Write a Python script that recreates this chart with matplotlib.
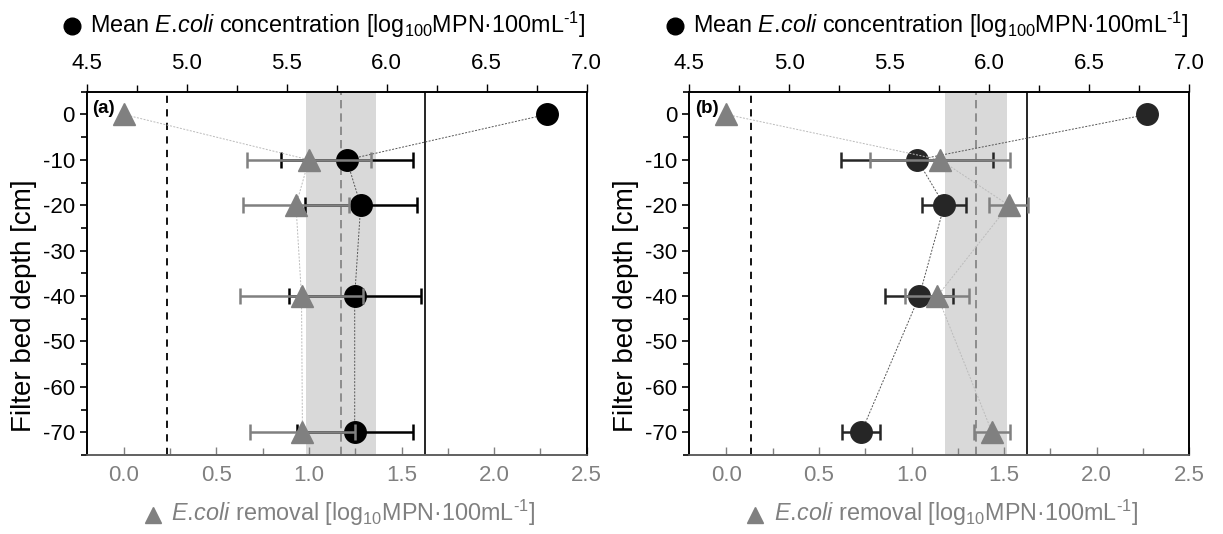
import matplotlib
matplotlib.use("Agg")
import matplotlib.pyplot as plt
from matplotlib.lines import Line2D
from matplotlib.ticker import MultipleLocator, FormatStrFormatter

plt.rcParams['font.family'] = ['Liberation Sans', 'DejaVu Sans']
plt.rcParams['mathtext.fontset'] = 'custom'
plt.rcParams['mathtext.rm'] = 'Liberation Sans'
plt.rcParams['mathtext.it'] = 'Liberation Sans:italic'
plt.rcParams['mathtext.bf'] = 'Liberation Sans:bold'
plt.rcParams['axes.unicode_minus'] = False

# ---- data ----
depth = [0, -10, -20, -40, -70]

conc_a = [6.80, 5.80, 5.87, 5.84, 5.84]
conc_a_err = [0.0, 0.33, 0.28, 0.33, 0.29]
rem_a = [0.0, 1.00, 0.93, 0.96, 0.965]
rem_a_err = [0.0, 0.335, 0.285, 0.33, 0.285]

conc_b = [6.79, 5.64, 5.775, 5.65, 5.36]
conc_b_err = [0.0, 0.38, 0.11, 0.17, 0.095]
rem_b = [0.0, 1.155, 1.525, 1.14, 1.435]
rem_b_err = [0.0, 0.378, 0.105, 0.173, 0.095]

# reference lines (removal units)
limit_dash = [0.234, 0.133]
band_lo = [0.985, 1.181]
band_hi = [1.363, 1.517]
mean_line = [1.172, 1.347]
limit_solid = [1.627, 1.625]

panel_labels = ['(a)', '(b)']
conc_ticks = [4.5, 5.0, 5.5, 6.0, 6.5, 7.0]
rem_ticks = [0.0, 0.5, 1.0, 1.5, 2.0, 2.5]
depth_ticks = [0, -10, -20, -30, -40, -50, -60, -70]

top_label = r'Mean $\it{E.\!coli}$ concentration [log$_{100}$MPN·100mL$^{\text{-}1}$]'
bottom_label = r'$\it{E.\!coli}$ removal [log$_{10}$MPN·100mL$^{\text{-}1}$]'
y_label = 'Filter bed depth [cm]'

GRAY = '#808080'
TICK_FS = 16
LAB_FS = 16.8
YLAB_FS = 20

W, H = 1223, 534
fig = plt.figure(figsize=(W / 100, H / 100), dpi=100)

panels = [
    (conc_a, conc_a_err, rem_a, rem_a_err, '#000000'),
    (conc_b, conc_b_err, rem_b, rem_b_err, '#262626'),
]
lefts = [86.7 / W, 689.3 / W]
bottom = 1 - 455 / H
width = 500 / W
height = (455 - 91.7) / H

label_texts = []
for i, (conc, cerr, rem, rerr, ccol) in enumerate(panels):
    pos = [lefts[i], bottom, width, height]
    ax = fig.add_axes(pos)             # removal axis (bottom) + background lines
    axc = ax.twiny()                    # concentration axis (top)
    axr = fig.add_axes(pos, sharex=ax, sharey=ax)  # removal markers on top layer
    axr.patch.set_visible(False)
    axr.axis('off')

    ax.set_xlim(-0.2, 2.5)
    ax.set_ylim(-75, 5)
    axc.set_xlim(4.5, 7.0)

    # background reference lines
    ax.axvspan(band_lo[i], band_hi[i], color='#d9d9d9', lw=0, zorder=0)
    ax.axvline(mean_line[i], color=GRAY, lw=1.2, ls=(0, (5, 3)), zorder=1)
    ax.axvline(limit_dash[i], color='black', lw=1.3, ls=(0, (4, 3.5)), zorder=1)
    ax.axvline(limit_solid[i], color='black', lw=1.2, zorder=1)

    # concentration (circles)
    axc.plot(conc, depth, ls=(0, (2, 1.5)), lw=0.7, color='#555555', zorder=2)
    axc.errorbar(conc[1:], depth[1:], xerr=cerr[1:], fmt='none', ecolor=ccol,
                 elinewidth=1.8, capsize=5.8, capthick=1.8, zorder=3)
    axc.plot(conc, depth, ls='none', marker='o', ms=15.5, mfc=ccol, mec=ccol,
             zorder=4)

    # removal (triangles)
    axr.plot(rem, depth, ls=(0, (2, 1.5)), lw=0.7, color='#bbbbbb', zorder=2)
    axr.errorbar(rem[1:], depth[1:], xerr=rerr[1:], fmt='none', ecolor=GRAY,
                 elinewidth=1.8, capsize=5.8, capthick=1.8, zorder=3)
    axr.plot(rem, depth, ls='none', marker='^', ms=16, mfc=GRAY, mec=GRAY,
             zorder=4)

    # axes styling
    ax.set_xticks(rem_ticks)
    ax.xaxis.set_major_formatter(FormatStrFormatter('%.1f'))
    ax.xaxis.set_minor_locator(MultipleLocator(0.25))
    ax.tick_params(axis='x', which='both', direction='in', colors=GRAY,
                   labelsize=TICK_FS, pad=7.5)
    ax.tick_params(axis='x', which='major', length=6, width=1)
    ax.tick_params(axis='x', which='minor', length=5, width=1)
    ax.set_yticks(depth_ticks)
    ax.yaxis.set_minor_locator(MultipleLocator(5))
    ax.tick_params(axis='y', which='both', direction='out', labelsize=TICK_FS,
                   colors='black', pad=3.5)
    ax.tick_params(axis='y', which='major', length=5, width=1.2)
    ax.tick_params(axis='y', which='minor', length=4, width=1.2)

    axc.set_xticks(conc_ticks)
    axc.xaxis.set_major_formatter(FormatStrFormatter('%.1f'))
    axc.xaxis.set_minor_locator(MultipleLocator(0.25))
    axc.tick_params(axis='x', which='both', direction='out', labelsize=TICK_FS,
                    colors='black', pad=6.5)
    axc.tick_params(axis='x', which='major', length=6, width=1)
    axc.tick_params(axis='x', which='minor', length=5, width=1)

    for a in (ax, axc):
        for s in a.spines.values():
            s.set_linewidth(1.2)
            s.set_color('black')
    ax.spines['bottom'].set_color('#606060')
    axc.spines['bottom'].set_color('#606060')

    ax.set_ylabel(y_label, fontsize=YLAB_FS)
    ax.yaxis.set_label_coords(-0.1, 0.41)

    t_top = ax.text(0.503, 1.1607, top_label, transform=ax.transAxes,
                    fontsize=LAB_FS, color='black', ha='center', va='baseline')
    t_bot = ax.text(0.533, -0.1817, bottom_label, transform=ax.transAxes,
                    fontsize=LAB_FS, color=GRAY, ha='center', va='baseline')
    label_texts.append((t_top, 'o', 'black', 26.3))
    label_texts.append((t_bot, '^', GRAY, 515.0))

    ax.text(0.011, 0.955, panel_labels[i], transform=ax.transAxes,
            fontsize=13.5, fontweight='bold', ha='left', va='center', zorder=10)

# place legend symbols just left of each axis label
fig.canvas.draw()
renderer = fig.canvas.get_renderer()
for t, mk, col, ycen_px in label_texts:
    bb = t.get_window_extent(renderer)
    xc = bb.x0 - 10 - 8.3
    fig.add_artist(Line2D([xc / W], [1 - ycen_px / H], transform=fig.transFigure,
                          marker=mk, ms=12, mfc=col, mec=col, ls='none'))

fig.savefig('out.png', dpi=100)
